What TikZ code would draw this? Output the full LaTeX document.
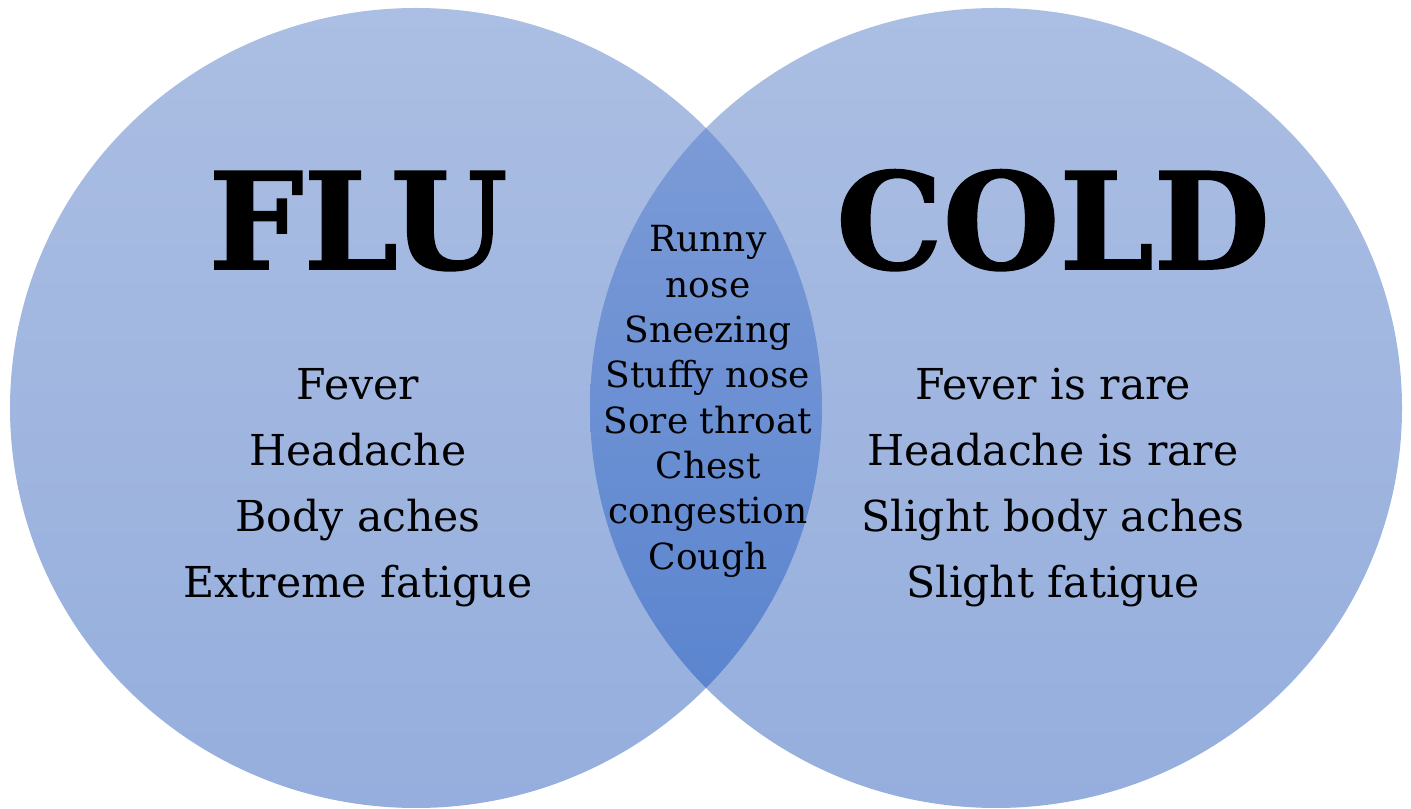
\documentclass[tikz,border=0pt]{standalone}
\usepackage{fontspec}
\setmainfont{DejaVu Serif}
\newfontfamily\headfont{DejaVu Serif Bold}[FakeBold=1.2]
\usetikzlibrary{positioning}
\definecolor{setTop}{HTML}{ABBEE3}
\definecolor{setBot}{HTML}{95AEDD}
\definecolor{lensTop}{HTML}{7C9BD7}
\definecolor{lensBot}{HTML}{5B85CF}

\begin{document}
\begin{tikzpicture}[
  x=0.5pt, y=0.5pt,
  title/.style={anchor=base, inner sep=0pt, font=\fontsize{67}{67}\selectfont\headfont},
  item/.style={anchor=base, inner sep=0pt, font=\fontsize{21.3}{25}\selectfont},
  shared/.style={anchor=base, inner sep=0pt, font=\fontsize{18}{21}\selectfont}
]
\useasboundingbox (0,0) rectangle (1411,808);

% Two sets
\shade[top color=setTop, bottom color=setBot] (416,400) ellipse [x radius=406, y radius=400];
\shade[top color=setTop, bottom color=setBot] (996,400) ellipse [x radius=406, y radius=400];

% Overlap
\begin{scope}
  \clip (416,400) ellipse [x radius=406, y radius=400];
  \clip (996,400) ellipse [x radius=406, y radius=400];
  \shade[top color=lensTop, bottom color=lensBot] (580,120) rectangle (830,692);
\end{scope}

% Headings
\node[title] (flu) at (358,539) {FLU};
\node[title] (cold) at (1053,539) {COLD};

% Flu only
\foreach \txt [count=\i] in {Fever, Headache, Body aches, Extreme fatigue}
  \node[item] (flu-\i) at (358,408-65.7*\i+65.7) {\txt};

% Cold only
\foreach \txt [count=\i] in {Fever is rare, Headache is rare, Slight body aches, Slight fatigue}
  \node[item] (cold-\i) at (1053,408-65.7*\i+65.7) {\txt};

% Both
\foreach \txt [count=\i] in {Runny, nose, Sneezing, Stuffy nose, Sore throat, Chest, congestion, Cough}
  \node[shared] (both-\i) at (708,556-45.3*\i+45.3) {\txt};
\end{tikzpicture}
\end{document}
